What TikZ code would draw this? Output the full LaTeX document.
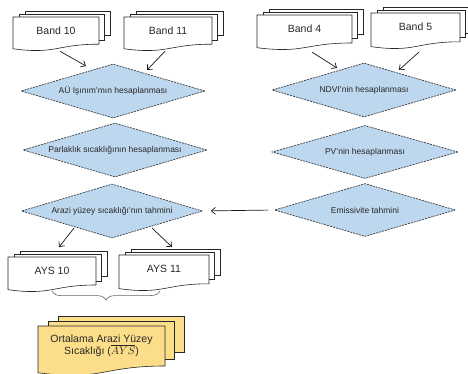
\documentclass[tikz,border=0pt]{standalone}
\usepackage{fontspec}
\setmainfont{Liberation Sans}
\usetikzlibrary{arrows.meta,shapes.geometric,decorations.pathreplacing}
\definecolor{dfill}{RGB}{189,215,238}
\definecolor{yfill}{RGB}{252,221,137}
\definecolor{dline}{RGB}{60,60,60}
\definecolor{txt}{RGB}{40,40,40}
\tikzset{
  docline/.style={draw=black!85,line width=0.6pt,line join=miter},
  doctext/.style={inner sep=0pt,font=\fontsize{10.5}{12}\selectfont,text=txt,align=center},
  decision/.style={shape=diamond,shape aspect=3.4,draw=dline,dash pattern=on 2pt off 1pt,line width=0.7pt,
    fill=dfill,inner sep=0pt,minimum width=184pt,minimum height=54pt,
    font=\fontsize{8.5}{10}\selectfont,text=txt},
  arr/.style={-{Straight Barb[length=4pt,width=7pt]},line width=0.7pt,draw=black!90},
  bracestyle/.style={draw=black!60,line width=0.6pt,decorate,decoration={brace,amplitude=9pt}}
}
% name, x, y, w, h, d, fill, text
\newcommand{\docstack}[8]{%
\begin{scope}[shift={(#2,#3)}]
\draw[docline,fill=#7] (2*#6,-#6) rectangle (#4+2*#6-1,0.8*#5-1.4*#6);
\draw[docline,fill=#7] (#6,-0.5*#6) rectangle (#4+#6-1,0.8*#5-0.7*#6);
\draw[docline,fill=#7] (0,0) -- (#4,0) -- (#4,0.8*#5)
  .. controls (0.5*#4,0.8*#5) and (0.5*#4,1.108*#5) .. (0,0.934*#5) -- cycle;
\node[doctext] (#1) at (0.5*#4,0.39*#5) {#8};
\end{scope}}
\begin{document}
\begin{tikzpicture}[x=1pt,y=-1pt]
\useasboundingbox[fill=white] (0,0) rectangle (468,374);

\docstack{b10}{13}{17}{86}{34}{6}{white}{Band 10}
\docstack{b11}{124}{17}{88}{34}{6}{white}{Band 11}
\docstack{b4}{257}{15}{95}{35}{6}{white}{Band 4}
\docstack{b5}{371}{13}{89}{36}{6}{white}{Band 5}

\node[decision] (d1) at (113,91) {AÜ Işınım'mın hesaplanması};
\node[decision] (d2) at (115,150) {Parlaklık sıcaklığının hesaplanması};
\node[decision,minimum width=181pt] (d3) at (112,211) {Arazi yüzey sıcaklığı'nın tahmini};
\node[decision] (d4) at (364,90) {NDVI'nin hesaplanması};
\node[decision,minimum width=186pt,minimum height=53pt] (d5) at (365,152) {PV'nin hesaplanması};
\node[decision,minimum width=181pt,minimum height=53pt] (d6) at (365,210) {Emissivite tahmini};

\docstack{ays10}{8}{257}{88}{35}{6}{white}{AYS 10}
\docstack{ays11}{119}{255}{90}{36}{6}{white}{AYS 11}
\docstack{ort}{38}{326}{127}{50}{10}{yfill}{\fontsize{10.5}{18}\selectfont Ortalama Arazi Yüzey\\ \fontsize{10.5}{18}\selectfont Sıcaklığı ($\overline{AYS}$)}

\draw[arr] ([shift={(4,21)}]b10.center) -- ([shift={(-27,-25)}]d1.center);
\draw[arr] ([shift={(-3,21)}]b11.center) -- ([shift={(34,-21)}]d1.center);
\draw[arr] ([shift={(7.5,23.5)}]b4.center) -- ([shift={(-27,-22)}]d4.center);
\draw[arr] ([shift={(3.5,25)}]b5.center) -- ([shift={(35,-20)}]d4.center);
\draw[arr] ([shift={(-38,17)}]d3.center) -- ([shift={(7,-23.5)}]ays10.center);
\draw[arr] ([shift={(40,17)}]d3.center) -- ([shift={(8,-22)}]ays11.center);
\draw[arr,shorten <=6pt,shorten >=8pt] (d6.west) -- (d3.east);

\coordinate (brR) at ([shift={(-4,22)}]ays11.center);
\coordinate (brL) at ([shift={(0,20.5)}]ays10.center);
\draw[bracestyle] (brR) -- (brL);
\end{tikzpicture}
\end{document}
